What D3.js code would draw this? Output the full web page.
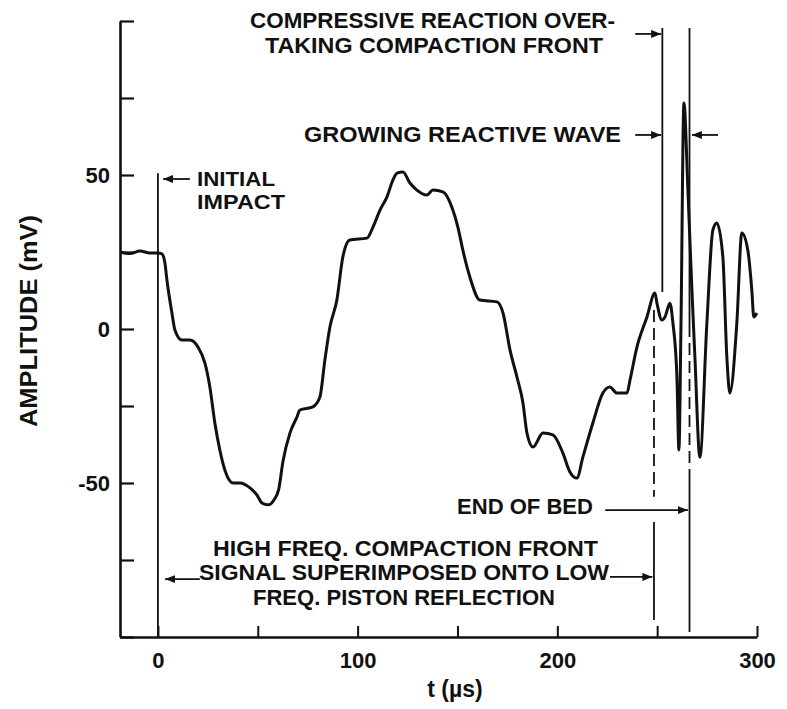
<!DOCTYPE html>
<html><head><meta charset="utf-8">
<script src="https://cdn.jsdelivr.net/npm/d3@7"></script>
<style>
html,body{margin:0;padding:0;background:#fff;}
svg text{font-family:"Liberation Sans",Arial,sans-serif;font-weight:bold;fill:#111;}
</style></head><body>
<svg id="chart" width="787" height="709"></svg>
<script>
// ---------- data ----------
const timeUs = [-19,-14,-9,-4,0,2,3.5,4.5,7,8.5,12,16,20,23.5,26,28.5,31,33.5,37.6,41.1,46.1,49.6,52.1,55.1,58.1,60.5,62.6,66.1,69.6,71.1,77.6,81.1,83.6,86.1,89.6,92.6,96.1,104.7,107.7,111.2,114.7,117.7,119.7,122.7,126.2,129.7,134.7,137.7,142.7,147.7,150.2,152.7,156.2,161.2,169.8,172.8,176.3,179.8,182.8,184.8,187.8,192.8,197.8,202.8,206.3,209.8,212.8,217.8,222.8,226.3,229.8,234.9,236.4,239.9,244.9,248.9,249.9,252.4,253.9,256.4,257.9,259.9,260.9,261.9,263.4,265.4,267.4,268.9,271.4,274.9,277.9,279.9,282.9,284.9,286.4,289.9,292.4,295.4,297.4,298.4,299.9];
const amplitudeMv = [25,24.5,25.3,24.7,24.7,24.4,21.4,15.9,5.2,-0.3,-3.6,-3.6,-5.8,-11,-18.8,-30.5,-39.3,-45.8,-50,-50,-51.6,-53.9,-56.5,-57.1,-55.5,-52,-43,-33.8,-28.6,-26.3,-25.3,-22.1,-10.1,0.6,9.4,23.4,28.9,29.5,33.1,38.6,42.9,48.4,50.6,51,47.4,45.1,43.5,45.1,44.5,38.6,33.1,25.6,16.9,9.4,8.8,5.2,-6.8,-15.6,-24,-33.8,-38.3,-33.8,-34.4,-40.3,-46.4,-48.4,-41.6,-30.5,-20.8,-18.8,-20.8,-20.8,-16.6,-5.8,3.9,11.7,8.4,2.9,3.9,8.4,1.9,-15.6,-39.3,-0.3,73.4,45.1,12.7,-9.1,-41.6,1.9,32.1,34.4,23.4,-9.1,-20.8,1.9,31.2,25.6,12.7,3.9,5.2];

const xTickValues = [0,50,100,150,200,250,300];
const xTickLabels = ["0","100","200","300"];
const yTickValues = [-100,-75,-50,-25,0,25,50,75,100];
const yTickLabels = ["-50","0","50"];
const xAxisTitle = "t (µs)";
const yAxisTitle = "AMPLITUDE (mV)";

// event times (µs) marked by vertical lines
const eventTimes = [0, 248.4, 252.6, 266.2];

const annotationTexts = [
  "COMPRESSIVE REACTION OVER-",
  "TAKING COMPACTION FRONT",
  "GROWING REACTIVE WAVE",
  "INITIAL",
  "IMPACT",
  "HIGH FREQ. COMPACTION FRONT",
  "SIGNAL SUPERIMPOSED ONTO LOW",
  "FREQ. PISTON REFLECTION",
  "END OF BED"
];

// ---------- layout (positions / sizes) ----------
const textLayout = [ // [x, baseline y, width, font size]
  [250,28,365,22],[265,53,338,22],[304,142,317,22],[197,186,78,20],[197,209,88,20],
  [213,556,385,22],[199,580,410,22],[253,605,302,22],[457,514,136,22]
];
// vertical event lines: [eventIndex, fromMv, toMv, dashed]
const eventSegments = [
  [0, 50.6, -100, false],
  [1, 6.2, -54.5, true],
  [1, -62.7, -94.5, false],
  [2, 97.7, 12, false],
  [3, 97.7, 1.3, false],
  [3, 1.3, -49, true],
  [3, -49, -98.4, false]
];
// arrows in data units: [tailT, headT, mV]
const arrowSpecs = [
  [16, 2.6, 48.7],
  [239, 252, 95.8],
  [239, 252, 63],
  [280.5, 267.4, 63],
  [224, 265.4, -58.8],
  [21, 3.6, -81.2],
  [226.4, 247.6, -80.5]
];

const svg = d3.select("#chart");
svg.append("rect").attr("width",787).attr("height",709).attr("fill","#fff");

const x = d3.scaleLinear().domain([-19,300]).range([120,757]);
const y = d3.scaleLinear().domain([-100,100]).range([637,21]);

const defs = svg.append("defs");
defs.append("marker").attr("id","ah").attr("viewBox","0 0 10 8")
  .attr("refX",10).attr("refY",4).attr("markerWidth",10).attr("markerHeight",8)
  .attr("markerUnits","userSpaceOnUse").attr("orient","auto")
  .append("path").attr("d","M0,0L10,4L0,8Z").attr("fill","#111");

// axes
const yAxis = d3.axisLeft(y).tickValues(yTickValues).tickSizeInner(-14).tickSizeOuter(0).tickPadding(10)
  .tickFormat(d => yTickLabels.includes(String(d)) ? String(d) : "");
const gy = svg.append("g").attr("transform",`translate(${x(-19)},0)`).call(yAxis);
gy.selectAll("text").style("font-size","22px");
gy.select(".domain").attr("stroke","#111").attr("stroke-width",2.6);
gy.selectAll(".tick line").attr("stroke","#111").attr("stroke-width",2.2);

const xAxis = d3.axisBottom(x).tickValues(xTickValues).tickSizeInner(-11).tickSizeOuter(0).tickPadding(15)
  .tickFormat(d => xTickLabels.includes(String(d)) ? String(d) : "");
const gx = svg.append("g").attr("transform",`translate(0,${y(-100)})`).call(xAxis);
gx.selectAll("text").style("font-size","22px");
gx.select(".domain").attr("stroke","#111").attr("stroke-width",2.6);
gx.selectAll(".tick line").attr("stroke","#111").attr("stroke-width",2);
[gx,gy].forEach(g=>g.selectAll("text").attr("fill","#111"));

// axis titles
svg.append("text").attr("x",455).attr("y",697).attr("text-anchor","middle")
  .style("font-size","23px").text(xAxisTitle);
svg.append("text").attr("transform","translate(37,321) rotate(-90)").attr("text-anchor","middle")
  .attr("textLength",212).attr("lengthAdjust","spacingAndGlyphs")
  .style("font-size","23px").text(yAxisTitle);

// event lines
svg.append("g").selectAll("line").data(eventSegments).join("line")
  .attr("x1",d=>x(eventTimes[d[0]])).attr("x2",d=>x(eventTimes[d[0]]))
  .attr("y1",d=>y(d[1])).attr("y2",d=>y(d[2]))
  .attr("stroke","#111").attr("stroke-width",1.8)
  .attr("stroke-dasharray",d=>d[3]?"12,6":null);

// waveform
const pts = timeUs.map((t,i)=>[t, amplitudeMv[i]]);
const line = d3.line().x(d=>x(d[0])).y(d=>y(d[1])).curve(d3.curveMonotoneX);
svg.append("path").datum(pts).attr("d",line).attr("fill","none")
  .attr("stroke","#111").attr("stroke-width",3).attr("stroke-linejoin","round");

// arrows
svg.append("g").selectAll("line").data(arrowSpecs).join("line")
  .attr("x1",d=>x(d[0])).attr("x2",d=>x(d[1]))
  .attr("y1",d=>y(d[2])).attr("y2",d=>y(d[2]))
  .attr("stroke","#111").attr("stroke-width",1.8).attr("marker-end","url(#ah)");

// annotation texts
svg.append("g").selectAll("text").data(annotationTexts).join("text")
  .attr("x",(d,i)=>textLayout[i][0]).attr("y",(d,i)=>textLayout[i][1])
  .attr("textLength",(d,i)=>textLayout[i][2]).attr("lengthAdjust","spacingAndGlyphs")
  .style("font-size",(d,i)=>textLayout[i][3]+"px").text(d=>d);
</script>
</body></html>
